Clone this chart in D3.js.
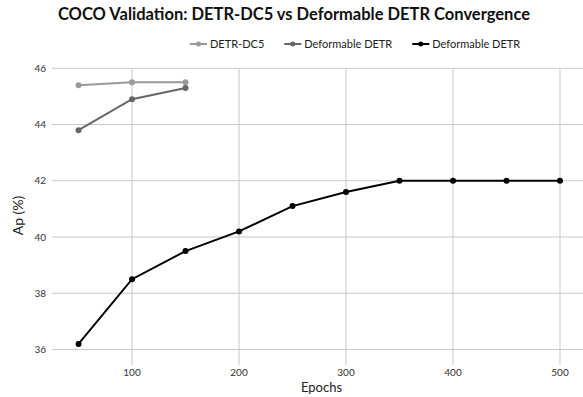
<!DOCTYPE html>
<html lang="en">
<head>
  <meta charset="UTF-8">
  <title>COCO Validation</title>
  <script src="https://d3js.org/d3.v7.min.js"></script>
  <style>
    body { margin: 0; background: #fff; }
    svg text { font-family: Lato, "DejaVu Sans", sans-serif; }
  </style>
</head>
<body>
<svg id="chart" width="583" height="397"></svg>
<script>
  // data
  const seriesNames = ["DETR-DC5", "Deformable DETR", "Deformable DETR"];
  const seriesColors = ["#999999", "#666666", "#000000"];
  const dc5Epochs = [50, 100, 150];
  const dc5Ap = [45.4, 45.5, 45.5];
  const defGrayEpochs = [50, 100, 150];
  const defGrayAp = [43.8, 44.9, 45.3];
  const defEpochs = [50, 100, 150, 200, 250, 300, 350, 400, 450, 500];
  const defAp = [36.2, 38.5, 39.5, 40.2, 41.1, 41.6, 42.0, 42.0, 42.0, 42.0];
  const xTicks = [100, 200, 300, 400, 500];
  const yTicks = [36, 38, 40, 42, 44, 46];

  const series = [
    { name: seriesNames[0], color: seriesColors[0], pts: dc5Epochs.map((e, i) => [e, dc5Ap[i]]) },
    { name: seriesNames[1], color: seriesColors[1], pts: defGrayEpochs.map((e, i) => [e, defGrayAp[i]]) },
    { name: seriesNames[2], color: seriesColors[2], pts: defEpochs.map((e, i) => [e, defAp[i]]) }
  ];

  const svg = d3.select("#chart");
  const plotLeft = 52, plotRight = 583, plotTop = 66, plotBottom = 365;

  const x = d3.scaleLinear().domain([25.2, 521.5]).range([plotLeft, plotRight]);
  const y = d3.scaleLinear().domain([35.45, 46.08]).range([plotBottom, plotTop]);

  // grid
  svg.append("g").selectAll("line").data(yTicks).join("line")
    .attr("x1", plotLeft).attr("x2", plotRight)
    .attr("y1", d => y(d)).attr("y2", d => y(d))
    .attr("stroke", "#c8c8c8").attr("stroke-width", 1);
  svg.append("g").selectAll("line").data(xTicks).join("line")
    .attr("x1", d => x(d)).attr("x2", d => x(d))
    .attr("y1", plotTop + 3).attr("y2", plotBottom)
    .attr("stroke", "#c8c8c8").attr("stroke-width", 1);

  // tick labels
  svg.append("g").selectAll("text").data(yTicks).join("text")
    .attr("x", plotLeft - 6).attr("y", d => y(d)).attr("dy", "0.35em")
    .attr("text-anchor", "end").attr("font-size", 10).attr("fill", "#333")
    .text(d => d);
  svg.append("g").selectAll("text").data(xTicks).join("text")
    .attr("x", d => x(d)).attr("y", plotBottom + 7).attr("dy", "0.35em")
    .attr("text-anchor", "middle").attr("font-size", 10).attr("fill", "#333")
    .text(d => d);

  // lines + markers
  const line = d3.line().x(d => x(d[0])).y(d => y(d[1]));
  series.forEach(s => {
    svg.append("path").datum(s.pts)
      .attr("d", line).attr("fill", "none")
      .attr("stroke", s.color).attr("stroke-width", 2);
    svg.append("g").selectAll("circle").data(s.pts).join("circle")
      .attr("cx", d => x(d[0])).attr("cy", d => y(d[1])).attr("r", 3)
      .attr("fill", s.color);
  });

  // title and axis labels
  svg.append("text").attr("x", 294).attr("y", 20)
    .attr("text-anchor", "middle").attr("font-size", 16.5).attr("font-weight", "bold")
    .attr("fill", "#111").text("COCO Validation: DETR-DC5 vs Deformable DETR Convergence");
  svg.append("text").attr("x", (plotLeft + plotRight) / 2 + 4).attr("y", 392)
    .attr("text-anchor", "middle").attr("font-size", 13).attr("fill", "#222").text("Epochs");
  svg.append("text").attr("transform", `translate(23,${(plotTop + plotBottom) / 2}) rotate(-90)`)
    .attr("text-anchor", "middle").attr("font-size", 14).attr("fill", "#222").text("Ap (%)");

  // legend, laid out left to right from measured text widths
  let lx = 190;
  series.forEach(s => {
    const g = svg.append("g").attr("transform", `translate(${lx},44)`);
    g.append("line").attr("x1", 0).attr("x2", 17)
      .attr("stroke", s.color).attr("stroke-width", 2);
    g.append("circle").attr("cx", 8.5).attr("r", 2.5).attr("fill", s.color);
    const t = g.append("text").attr("x", 20).attr("dy", "0.35em").attr("font-size", 11)
      .attr("fill", "#222").text(s.name);
    lx += 20 + t.node().getComputedTextLength() + 20;
  });
</script>
</body>
</html>
